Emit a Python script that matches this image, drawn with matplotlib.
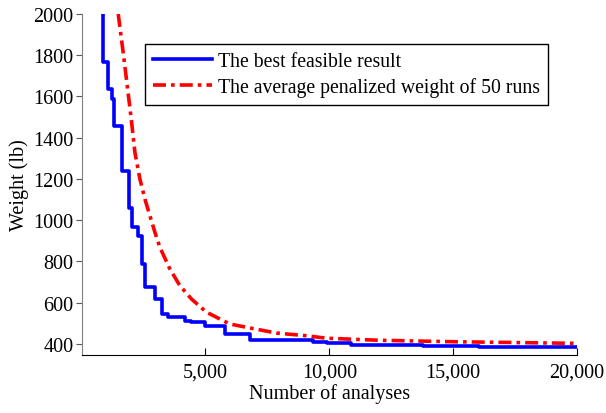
import matplotlib
matplotlib.use("Agg")
import matplotlib.pyplot as plt
from matplotlib.ticker import FuncFormatter

best_x = [871, 871, 1073, 1210, 1315, 1613, 1900, 2050, 2258, 2419, 2552, 2956, 3226, 3492,
          4165, 4400, 4972, 5778, 6786, 9339, 9903, 10887, 13774, 16060, 20000]
best_y = [2100, 1766, 1636, 1588, 1458, 1240, 1060, 966, 925, 788, 678, 616, 545, 531,
          513, 505, 489, 448, 421, 411, 403, 397, 390, 387, 387]

avg_x = [1476, 1700, 1880, 2016, 2149, 2351, 2553, 2754, 2956, 3157, 3560, 3964, 4435,
         5040, 5980, 6653, 7863, 9073, 9879, 12000, 15000, 17500, 20000]
avg_y = [2000, 1790, 1612, 1475, 1329, 1200, 1103, 1022, 942, 869, 764, 683, 618,
         554, 497, 481, 453, 440, 428, 418, 411, 407, 403]

x_ticks = [5000, 10000, 15000, 20000]
y_ticks = [400, 600, 800, 1000, 1200, 1400, 1600, 1800, 2000]

plt.rcParams['font.family'] = ['Liberation Serif', 'DejaVu Serif']

fig = plt.figure(figsize=(6.06, 4.14), dpi=100)
ax = fig.add_axes([0.1348, 0.1408, 0.952 - 0.1348, 0.9638 - 0.1408])

ax.plot(best_x, best_y, color='#0000ff', lw=2.6, drawstyle='steps-post',
        label='The best feasible result')
ax.plot(avg_x, avg_y, color='#ff0000', lw=2.6, dashes=[3.6, 1.4, 1, 1.4],
        label='The average penalized weight of 50 runs')

ax.set_xlim(0, 20000)
ax.set_ylim(348, 2000)
ax.set_xticks(x_ticks)
ax.set_yticks(y_ticks)
ax.xaxis.set_major_formatter(FuncFormatter(lambda v, p: f"{int(v):,}"))
ax.tick_params(axis='x', direction='in', length=5, labelsize=14.5, pad=6)
ax.tick_params(axis='y', direction='out', length=4, labelsize=14.5, pad=2,
               colors='0.35', labelcolor='black')
for s in ['top', 'right']:
    ax.spines[s].set_visible(False)
ax.spines['left'].set_color('0.5')
ax.spines['bottom'].set_color('black')

ax.set_xlabel('Number of analyses', fontsize=14.5, labelpad=1)
ax.set_ylabel('Weight (lb)', fontsize=14.5, labelpad=3)

leg = ax.legend(loc='upper left', bbox_to_anchor=(145 / 606, 1 - 45 / 414),
                bbox_transform=fig.transFigure, fontsize=14.2, frameon=True,
                fancybox=False, edgecolor='black', framealpha=1, handlelength=3.0,
                borderpad=0.4, labelspacing=0.3, handletextpad=0.3,
                borderaxespad=0)
leg.get_frame().set_linewidth(1.0)

fig.savefig('out.png', dpi=100)
